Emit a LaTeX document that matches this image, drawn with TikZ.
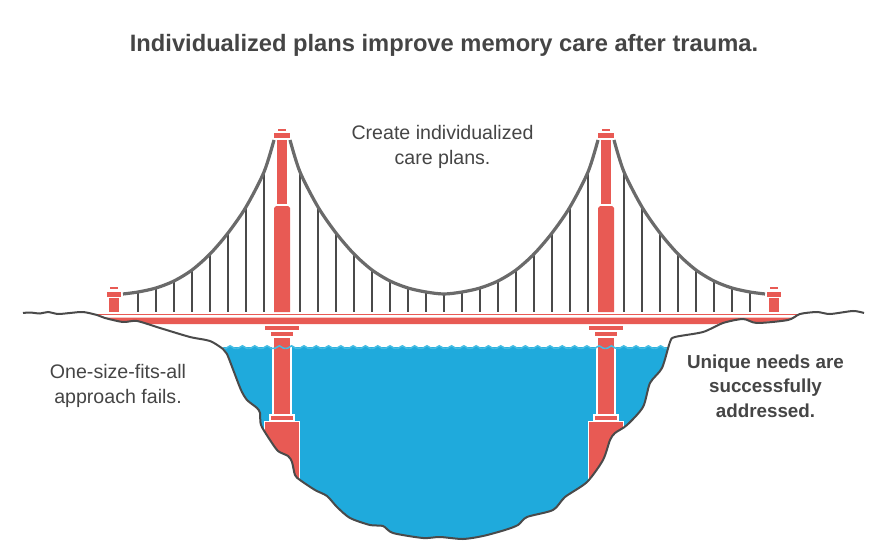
\documentclass[tikz,border=0pt]{standalone}
\usepackage{fontspec}
\setmainfont{Liberation Sans}
\definecolor{towerred}{HTML}{E85A54}
\definecolor{waterblue}{HTML}{1FAADC}
\definecolor{waveblue}{HTML}{45BDE3}
\definecolor{landgray}{HTML}{4A4A4A}
\definecolor{cablegray}{HTML}{6A6A6A}
\definecolor{textgray}{HTML}{454545}
\tikzset{
  towerpart/.style={fill=towerred, draw=none},
  sunkpart/.style={fill=towerred, draw=white, line width=1.8},
  sunkside/.style={draw=white, line width=1.8},
  hanger/.style={draw=landgray, line width=2.2},
  cable/.style={draw=cablegray, line width=3.2, line cap=butt},
  landline/.style={draw=landgray, line width=2},
  caption/.style={text=textgray, align=center, font=\fontsize{19.6}{25}\selectfont},
}
\def\bedpoints{(223,347) (227,354) (234,372) (241,390) (247,400) (257,408) (260,413) (261,425) (270,440) (278,451) (288,456) (292,462) (295,475) (300,480) (315,490) (327,496) (337,507) (350,518) (370,525) (383,526) (393,533) (423,538) (440,537) (463,539) (483,536) (505,530) (518,525) (527,517) (553,510) (565,497) (587,482) (603,460) (610,440) (615,433) (627,425) (643,407) (650,383) (662,368) (668.5,347)}
\begin{document}
\begin{tikzpicture}[x=1pt, y=-1pt]
  \useasboundingbox (0,0) rectangle (888,556);
  % Water
  \fill[waterblue] plot[smooth, tension=.45] coordinates {\bedpoints} -- cycle;
  % Deck
  \fill[towerred] (101,317.5) -- (123,322) -- (137,321) -- (147,324) -- (716,324) -- (723,323) -- (743,319) -- (757,322.5) -- (788,320) -- (796,317.5) -- cycle;
  \fill[towerred] (97,313.6) rectangle (801,315.4);
  % Hangers and cables
  \foreach \d/\t in {18/172, 36/207, 54/233, 72/254, 90/270, 108/281, 126/288, 144/292}{
    \draw[hanger] (282-\d, \t) -- (282-\d, 312);
    \draw[hanger] (282+\d, \t) -- (282+\d, 312);
    \draw[hanger] (606-\d, \t) -- (606-\d, 312);
    \draw[hanger] (606+\d, \t) -- (606+\d, 312);
  }
  \draw[hanger] (444, 294) -- (444, 312);
  \draw[cable] plot[smooth] coordinates {(123,294) (138,292) (156,288) (174,281) (192,270) (210,254) (228,233) (246,207) (264,172) (274,140)};
  \draw[cable] plot[smooth] coordinates {(290,140) (300,172) (318,207) (336,233) (354,254) (372,270) (390,281) (408,288) (426,292) (444,294) (462,292) (480,288) (498,281) (516,270) (534,254) (552,233) (570,207) (588,172) (598,140)};
  \draw[cable] plot[smooth] coordinates {(614,140) (624,172) (642,207) (660,233) (678,254) (696,270) (714,281) (732,288) (750,292) (765,294)};
  % Towers
  \foreach \x in {282, 606}{
    \fill[towerpart] (\x-4, 129) rectangle (\x+4, 131.3);
    \fill[towerpart] (\x-8, 133) rectangle (\x+8, 138);
    \fill[towerpart] (\x-5, 140) rectangle (\x+5, 204);
    \fill[towerpart] (\x-8, 312) -- (\x-8, 208) -- (\x-6, 206) -- (\x+6, 206) -- (\x+8, 208) -- (\x+8, 312) -- cycle;
    \fill[towerpart] (\x-17, 326) rectangle (\x+17, 330);
    \fill[towerpart] (\x-11, 332) rectangle (\x+11, 336);
    \fill[towerpart] (\x-8, 338) rectangle (\x+8, 414);
    \draw[sunkside] (\x-9, 347) -- (\x-9, 414);
    \draw[sunkside] (\x+9, 347) -- (\x+9, 414);
    \draw[sunkpart] (\x-12, 415) rectangle (\x+12, 420.5);
    \begin{scope}
      \clip plot[smooth, tension=.45] coordinates {\bedpoints} -- cycle;
      \draw[sunkpart] (\x-17.5, 421.5) rectangle (\x+17.5, 500);
    \end{scope}
  }
  % Short end towers
  \foreach \x in {114, 774}{
    \fill[towerpart] (\x-4, 287.3) rectangle (\x+4, 289.3);
    \fill[towerpart] (\x-7, 291.7) rectangle (\x+7, 296.7);
    \fill[towerpart] (\x-5, 298.3) rectangle (\x+5, 312);
  }
  % Waves
  \foreach \i in {0,...,35}{
    \draw[waveblue, line width=1.5] (224+12.3*\i, 348.5) .. controls (228+12.3*\i, 348.5) and (228+12.3*\i, 345.8) .. (230.15+12.3*\i, 345.8) .. controls (232.3+12.3*\i, 345.8) and (232.3+12.3*\i, 348.5) .. (236.3+12.3*\i, 348.5);
  }
  % Land
  \draw[landline] plot[smooth, tension=.45] coordinates {(23,313) (30,312.5) (40,313.5) (48,312) (58,314) (70,313) (83,312) (97,315) (105,318) (123,322) (137,321) (160,328) (190,337) (210,341) (223,349) (227,354) (234,372) (241,390) (247,400) (257,408) (260,413) (261,425) (270,440) (278,451) (288,456) (292,462) (295,475) (300,480) (315,490) (327,496) (337,507) (350,518) (370,525) (383,526) (393,533) (423,538) (440,537) (463,539) (483,536) (505,530) (518,525) (527,517) (553,510) (565,497) (587,482) (603,460) (610,440) (615,433) (627,425) (643,407) (650,383) (662,368) (670,342) (675,337) (703,332) (723,323) (743,319) (757,323) (788,320) (800,314) (817,312) (830,314) (853,311) (864,313)};
  % Labels
  \node[text=textgray, font=\fontsize{23.7}{28}\selectfont\bfseries] (title) at (444,45.5) {Individualized plans improve memory care after trauma.};
  \node[caption] (planlabel) at (442.5,147) {Create individualized\\care plans.};
  \node[caption] (faillabel) at (118,385.5) {One-size-fits-all\\approach fails.};
  \node[caption, font=\fontsize{18.8}{24.6}\selectfont\bfseries] (needlabel) at (765.5,386) {Unique needs are\\successfully\\addressed.};
\end{tikzpicture}
\end{document}
